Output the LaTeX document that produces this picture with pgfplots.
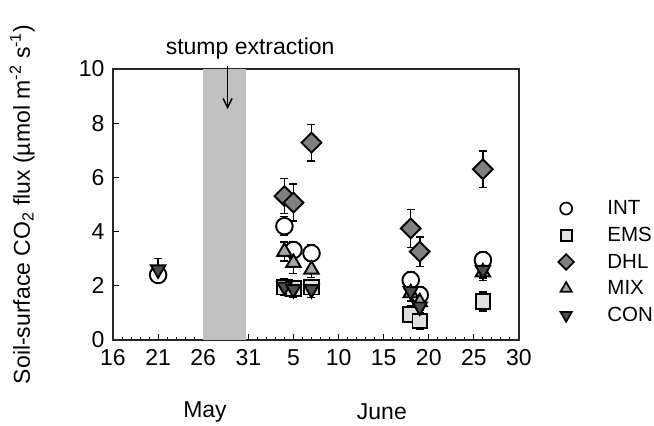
\documentclass[border=0pt]{standalone}
\usepackage{pgfplots}
\usepackage{pgfplotstable}
\pgfplotsset{compat=1.18}
\usetikzlibrary{arrows.meta}
\usepackage{fontspec}
\setmainfont{Liberation Sans}
\definecolor{emsc}{HTML}{E0E0E0}
\definecolor{dhlc}{HTML}{808080}
\definecolor{mixc}{HTML}{A6A6A6}
\definecolor{conc}{HTML}{4D4D4D}
\definecolor{bandc}{HTML}{C0C0C0}
\pgfplotstableread{
x y e
5 2.40 0.25
19 4.20 0.35
20 3.32 0.30
22 3.20 0.30
33 2.21 0.30
34 1.66 0.30
41 2.95 0.30
}\INT
\pgfplotstableread{
x y e
19 1.95 0.30
20 1.90 0.25
22 1.95 0.25
33 0.95 0.30
34 0.70 0.30
41 1.42 0.35
}\EMS
\pgfplotstableread{
x y e
19 5.31 0.65
20 5.07 0.68
22 7.28 0.67
33 4.12 0.70
34 3.26 0.55
41 6.30 0.67
}\DHL
\pgfplotstableread{
x y e
19 3.26 0.35
20 2.85 0.40
22 2.60 0.30
33 1.73 0.30
34 1.40 0.30
41 2.50 0.30
}\MIX
\pgfplotstableread{
x y e
5 2.60 0.40
19 1.97 0.30
20 1.87 0.30
22 1.87 0.30
33 1.80 0.35
34 1.23 0.30
41 2.58 0.30
}\CON
\pgfplotsset{
  ebar/.style={error bars/.cd, y dir=both, y explicit,
    error bar style={line width=1.5pt, black},
    error mark options={rotate=90, mark size=4pt, line width=1.5pt, black}},
}
\begin{document}
\begin{tikzpicture}
\path[use as bounding box] (-113pt,-86pt) rectangle (541pt,340pt);
\begin{axis}[
  scale only axis, width=406pt, height=271pt,
  xmin=0, xmax=45, ymin=0, ymax=10,
  xtick={0,5,...,45}, xticklabels={16,21,26,31,5,10,15,20,25,30},
  minor x tick num=4,
  ytick={0,2,...,10},
  xtick pos=bottom, ytick pos=left, tick align=inside,
  major tick length=6pt, minor tick length=3.5pt,
  tick style={line width=1pt, black},
  axis line style={line width=1.2pt, black!85},
  clip=false,
  /pgf/number format/assume math mode=true,
  tick label style={font=\fontsize{23}{27}\selectfont},
  xticklabel style={yshift=-6pt},
  yticklabel style={xshift=-5pt},
  ylabel={Soil-surface CO\textsubscript{2} flux (µmol m\textsuperscript{-2} s\textsuperscript{-1})},
  every axis y label/.style={at={(axis description cs:-0.224,0.5)}, rotate=90, anchor=center, font=\fontsize{23}{27}\selectfont},
  legend style={at={(1.097,0.288)}, anchor=west, draw=none, fill=none,
    font=\fontsize{20.5}{23}\selectfont, inner sep=0pt, outer sep=0pt,
    row sep=7pt, column sep=31.5pt},
  legend cell align=left,
  legend image code/.code={\draw[#1] plot coordinates {(0pt,0pt)};},
]
\fill[bandc] (axis cs:10,0) rectangle (axis cs:14.7,10);
\addplot[only marks, mark=*, mark size=8.3pt, mark options={fill=white, draw=black, line width=1.9pt}, forget plot, ebar]
  table[x=x, y=y, y error=e] {\INT};
\addplot[only marks, mark=square*, mark size=7.3pt, mark options={fill=emsc, draw=black, line width=1.9pt}, forget plot, ebar]
  table[x=x, y=y, y error=e] {\EMS};
\addplot[only marks, mark=square*, mark size=7pt, mark options={rotate=45, fill=dhlc, draw=black, line width=1.9pt}, forget plot, ebar]
  table[x=x, y=y, y error=e] {\DHL};
\addplot[only marks, mark=triangle*, mark size=8.3pt, mark options={fill=mixc, draw=black, line width=1.9pt}, forget plot, ebar]
  table[x=x, y=y, y error=e] {\MIX};
\addplot[only marks, mark=triangle*, mark size=8.3pt, mark options={rotate=180, fill=conc, draw=black, line width=1.9pt}, forget plot, ebar]
  table[x=x, y=y, y error=e] {\CON};
\addlegendimage{only marks, mark=*, mark size=6pt, mark options={fill=white, draw=black, line width=1.7pt}}
\addlegendentry{INT}
\addlegendimage{only marks, mark=square*, mark size=5.5pt, mark options={fill=emsc, draw=black, line width=1.7pt}}
\addlegendentry{EMS}
\addlegendimage{only marks, mark=square*, mark size=5.5pt, mark options={rotate=45, fill=dhlc, draw=black, line width=1.7pt}}
\addlegendentry{DHL}
\addlegendimage{only marks, mark=triangle*, mark size=6.5pt, mark options={fill=mixc, draw=black, line width=1.7pt}}
\addlegendentry{MIX}
\addlegendimage{only marks, mark=triangle*, mark size=6.5pt, mark options={rotate=180, fill=conc, draw=black, line width=1.7pt}}
\addlegendentry{CON}
\draw[-{Straight Barb[length=9pt,width=9pt]}, line width=1.5pt] (axis cs:12.7,10.12) -- (axis cs:12.7,8.52);
\node[font=\fontsize{23}{27}\selectfont] at (axis cs:15.2,10.77) {stump extraction};
\node[font=\fontsize{23}{27}\selectfont] at (axis cs:10.2,-2.66) {May};
\node[font=\fontsize{23}{27}\selectfont] at (axis cs:29.8,-2.66) {June};
\end{axis}
\end{tikzpicture}
\end{document}
